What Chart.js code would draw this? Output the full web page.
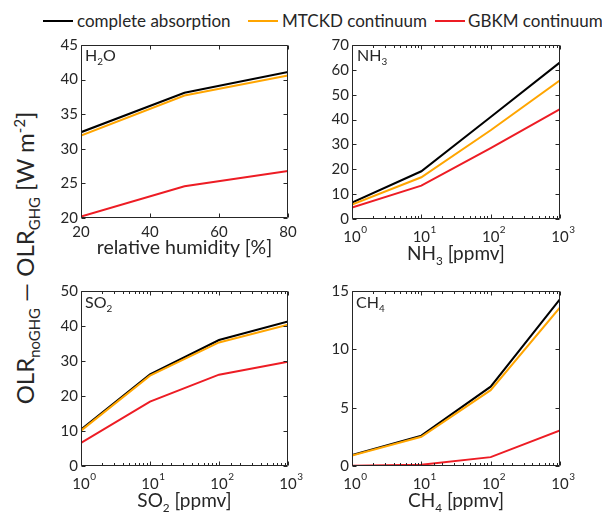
<!DOCTYPE html>
<html>
<head>
<meta charset="utf-8">
<script src="https://cdn.jsdelivr.net/npm/chart.js@4.4.0/dist/chart.umd.min.js"></script>
<style>
  body { margin: 0; width: 602px; height: 512px; background: #fff; position: relative; overflow: hidden;
         font-family: Lato, sans-serif; color: #262626; }
  canvas { position: absolute; }
  .t { position: absolute; white-space: nowrap; line-height: 1; }
  .t sub, .t sup { font-size: 62%; line-height: 0; }
  .xt { text-align: center; font-size: 19px; }
  .pl { font-size: 16px; }
  .lg { font-size: 17px; top: 11.5px; }
  .ln { position: absolute; height: 2px; width: 30px; top: 19.5px; }
</style>
</head>
<body>
<div class="ln" style="left:43px;background:#000"></div>
<div class="t lg" style="left:77px">complete absorption</div>
<div class="ln" style="left:248px;background:#ffa500"></div>
<div class="t lg" style="left:282px">MTCKD continuum</div>
<div class="ln" style="left:435px;background:#ed1c24"></div>
<div class="t lg" style="left:468px">GBKM continuum</div>

<div class="t" style="left:25px;top:258px;font-size:24px;transform:translate(-50%,-50%) rotate(-90deg)">OLR<sub>noGHG</sub> — OLR<sub>GHG</sub> [W m<sup>-2</sup>]</div>

<canvas id="h2o" width="267" height="215" style="left:41px;top:33px"></canvas>
<canvas id="nh3" width="268" height="216" style="left:312px;top:33px"></canvas>
<canvas id="so2" width="267" height="217" style="left:41px;top:279px"></canvas>
<canvas id="ch4" width="268" height="217" style="left:312px;top:279px"></canvas>

<div class="t pl" style="left:85px;top:47px">H<sub>2</sub>O</div>
<div class="t pl" style="left:357px;top:47px">NH<sub>3</sub></div>
<div class="t pl" style="left:85px;top:294px">SO<sub>2</sub></div>
<div class="t pl" style="left:356px;top:294px">CH<sub>4</sub></div>

<div class="t xt" style="left:81px;width:207px;top:237px;font-size:19.5px">relative humidity [%]</div>
<div class="t xt" style="left:352px;width:208px;top:243px">NH<sub>3</sub> [ppmv]</div>
<div class="t xt" style="left:81px;width:207px;top:490px">SO<sub>2</sub> [ppmv]</div>
<div class="t xt" style="left:352px;width:208px;top:490px">CH<sub>4</sub> [ppmv]</div>

<script>
// series names and colours
const seriesNames = ['complete absorption', 'MTCKD continuum', 'GBKM continuum'];
const seriesColors = ['#000000', '#ffa500', '#ed1c24'];

// x values
const humidity = [20, 50, 80];
const ppmv = [1, 10, 100, 1000];

// OLR difference [W m-2]
const h2oComplete = [32.4, 38.1, 41.1];
const h2oMtckd = [31.9, 37.7, 40.6];
const h2oGbkm = [20.2, 24.6, 26.8];

const nh3Complete = [6.6, 19.2, 41.0, 63.0];
const nh3Mtckd = [5.8, 16.8, 35.7, 55.8];
const nh3Gbkm = [4.6, 13.4, 28.5, 44.2];

const so2Complete = [10.4, 26.2, 36.0, 41.3];
const so2Mtckd = [10.1, 25.8, 35.3, 40.4];
const so2Gbkm = [6.6, 18.4, 26.1, 29.8];

const ch4Complete = [0.95, 2.6, 6.8, 14.3];
const ch4Mtckd = [0.9, 2.5, 6.5, 13.6];
const ch4Gbkm = [0.02, 0.1, 0.76, 3.05];

// tick labels
const humidityTicks = [20, 40, 60, 80];
const h2oTicks = [20, 25, 30, 35, 40, 45];
const nh3Ticks = [0, 10, 20, 30, 40, 50, 60, 70];
const so2Ticks = [0, 10, 20, 30, 40, 50];
const ch4Ticks = [0, 5, 10, 15];

const ink = '#262626';
const tickFont = '15px Lato';

// MATLAB style box with inward ticks on all sides, and 10^n labels on log axes
const frame = {
  id: 'frame',
  afterDraw(chart) {
    const { ctx, chartArea: a, scales: { x, y } } = chart;
    const L = Math.round(a.left) + 0.5, R = Math.round(a.right) - 0.5;
    const T = Math.round(a.top) + 0.5, B = Math.round(a.bottom) - 0.5;
    ctx.save();
    ctx.strokeStyle = ink;
    ctx.lineWidth = 1;
    ctx.beginPath();
    ctx.rect(L, T, R - L, B - T);
    y.ticks.forEach(t => {
      const p = Math.round(y.getPixelForValue(t.value)) + 0.5;
      ctx.moveTo(L, p); ctx.lineTo(L + 4, p);
      ctx.moveTo(R, p); ctx.lineTo(R - 4, p);
    });
    x.ticks.forEach(t => {
      const lg = Math.log10(t.value);
      const major = x.type !== 'logarithmic' || Math.abs(lg - Math.round(lg)) < 1e-9;
      const len = major ? 4 : 2.5;
      const p = Math.round(x.getPixelForValue(t.value)) + 0.5;
      ctx.moveTo(p, B); ctx.lineTo(p, B - len);
      ctx.moveTo(p, T); ctx.lineTo(p, T + len);
    });
    ctx.stroke();
    if (x.type === 'logarithmic') {
      ctx.fillStyle = ink;
      ctx.textBaseline = 'alphabetic';
      x.ticks.forEach(t => {
        const lg = Math.log10(t.value);
        if (Math.abs(lg - Math.round(lg)) > 1e-9) return;
        const p = x.getPixelForValue(t.value);
        ctx.font = tickFont;
        ctx.textAlign = 'center';
        ctx.fillText('10', p, a.bottom + 23);
        const w = ctx.measureText('10').width;
        ctx.font = '10px Lato';
        ctx.textAlign = 'left';
        ctx.fillText(String(Math.round(lg)), p + w / 2 + 0.5, a.bottom + 14);
      });
    }
    ctx.restore();
  }
};

function makePanel(id, xs, ys, xTicks, yTicks, logX) {
  // last series first so that Chart.js paints it on top, as in the original plot order
  const datasets = ys.map((vals, i) => ({
    label: seriesNames[i],
    data: vals.map((v, j) => ({ x: xs[j], y: v })),
    borderColor: seriesColors[i],
    borderWidth: 2,
    pointRadius: 0,
    tension: 0,
    fill: false
  })).reverse();
  const xScale = logX ? {
    type: 'logarithmic',
    min: xs[0],
    max: xs[xs.length - 1],
    grid: { display: false, drawTicks: false },
    border: { display: false },
    ticks: { display: false, autoSkip: false },
    afterFit: s => { s.height = 30; }
  } : {
    type: 'linear',
    min: xTicks[0],
    max: xTicks[xTicks.length - 1],
    grid: { display: false, drawTicks: false },
    border: { display: false },
    afterBuildTicks: s => { s.ticks = xTicks.map(v => ({ value: v })); },
    ticks: { autoSkip: false, maxRotation: 0, color: ink, font: { family: 'Lato', size: 15 }, padding: 5 },
    afterFit: s => { s.height = 30; }
  };
  return new Chart(document.getElementById(id), {
    type: 'line',
    data: { datasets },
    options: {
      responsive: false,
      animation: false,
      layout: { padding: { top: 10, right: 20, left: 0, bottom: 0 } },
      plugins: { legend: { display: false }, tooltip: { enabled: false } },
      scales: {
        x: xScale,
        y: {
          type: 'linear',
          min: yTicks[0],
          max: yTicks[yTicks.length - 1],
          grid: { display: false, drawTicks: false },
          border: { display: false },
          afterBuildTicks: s => { s.ticks = yTicks.map(v => ({ value: v })); },
          ticks: { autoSkip: false, color: ink, font: { family: 'Lato', size: 15 }, padding: 3 },
          afterFit: s => { s.width = 40; }
        }
      }
    },
    plugins: [frame]
  });
}

makePanel('h2o', humidity, [h2oComplete, h2oMtckd, h2oGbkm], humidityTicks, h2oTicks, false);
makePanel('nh3', ppmv, [nh3Complete, nh3Mtckd, nh3Gbkm], null, nh3Ticks, true);
makePanel('so2', ppmv, [so2Complete, so2Mtckd, so2Gbkm], null, so2Ticks, true);
makePanel('ch4', ppmv, [ch4Complete, ch4Mtckd, ch4Gbkm], null, ch4Ticks, true);
</script>
</body>
</html>
